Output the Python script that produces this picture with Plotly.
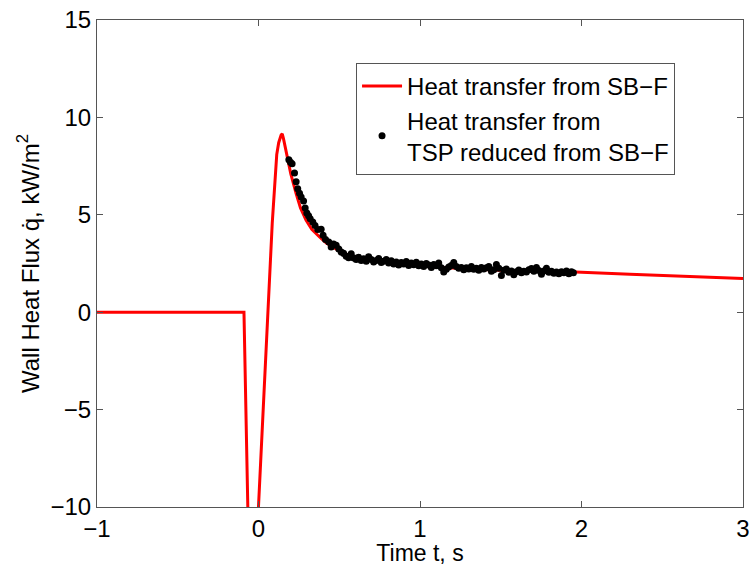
import plotly.graph_objects as go

# Red curve: heat transfer from SB-F
line_t = [-1.0, -0.09, -0.047, 0.048, 0.085, 0.113, 0.125, 0.14, 0.147, 0.155, 0.165, 0.18,
          0.2, 0.233, 0.26, 0.295, 0.33, 0.378, 0.42, 0.46, 0.51, 0.563, 0.65, 0.77, 0.9,
          1.08, 1.3, 1.49, 1.7, 1.963, 2.3, 2.6, 3.0]
line_q = [0, 0, -18, -1.95, 4.56, 8.1, 8.7, 9.1, 9.16, 8.9, 8.5, 7.88,
          7.1, 6.09, 5.35, 4.72, 4.25, 3.86, 3.55, 3.35, 3.1, 2.92, 2.75, 2.58, 2.45,
          2.32, 2.22, 2.15, 2.1, 2.07, 1.95, 1.85, 1.73]

# Black dots: TSP reduced from SB-F
dot_t = [0.188, 0.198, 0.208, 0.223, 0.233, 0.243, 0.254, 0.264, 0.279, 0.289, 0.299, 0.310,
         0.320, 0.336, 0.350, 0.367, 0.388, 0.400, 0.415, 0.435, 0.450, 0.465, 0.481, 0.497,
         0.512, 0.527, 0.543, 0.558, 0.574, 0.590, 0.605, 0.620, 0.636, 0.651, 0.667, 0.682,
         0.698, 0.713, 0.729, 0.744, 0.760, 0.775, 0.791, 0.806, 0.822, 0.837, 0.853, 0.868,
         0.884, 0.899, 0.915, 0.930, 0.946, 0.961, 0.977, 0.992, 1.008, 1.023, 1.039, 1.054,
         1.070, 1.085, 1.101, 1.116, 1.132, 1.147, 1.163, 1.178, 1.194, 1.209, 1.225, 1.240,
         1.256, 1.271, 1.287, 1.302, 1.318, 1.333, 1.349, 1.364, 1.380, 1.395, 1.411, 1.426,
         1.442, 1.457, 1.473, 1.488, 1.504, 1.519, 1.535, 1.550, 1.566, 1.581, 1.597, 1.612,
         1.628, 1.643, 1.659, 1.674, 1.690, 1.705, 1.721, 1.736, 1.752, 1.767, 1.783, 1.798,
         1.814, 1.829, 1.845, 1.860, 1.876, 1.891, 1.907, 1.922, 1.938, 1.950]
dot_q = [7.83, 7.70, 7.62, 7.14, 6.70, 6.34, 6.10, 5.91, 5.71, 5.35, 5.09, 4.95,
         4.80, 4.63, 4.45, 4.24, 4.26, 3.95, 3.73, 3.60, 3.35, 3.50, 3.44, 3.25,
         3.09, 3.02, 2.87, 2.80, 3.00, 2.78, 2.70, 2.82, 2.66, 2.74, 2.62, 2.85,
         2.70, 2.58, 2.66, 2.76, 2.55, 2.62, 2.70, 2.52, 2.64, 2.48, 2.58, 2.42,
         2.55, 2.47, 2.60, 2.40, 2.52, 2.44, 2.56, 2.38, 2.48, 2.35, 2.50, 2.42,
         2.30, 2.45, 2.38, 2.52, 2.28, 2.06, 2.20, 2.32, 2.40, 2.55, 2.35, 2.25,
         2.30, 2.18, 2.28, 2.22, 2.34, 2.20, 2.26, 2.15, 2.30, 2.22, 2.28, 2.35,
         2.10, 2.18, 2.45, 2.25, 1.88, 2.15, 2.22, 2.05, 2.12, 1.92, 2.08, 2.16,
         2.02, 2.10, 2.06, 2.18, 2.24, 2.10, 2.30, 2.14, 1.95, 2.12, 2.25, 2.05,
         2.10, 2.00, 2.06, 1.98, 2.08, 2.02, 2.12, 1.98, 2.08, 2.02]

x_ticks = [-1, 0, 1, 2, 3]
y_ticks = [-10, -5, 0, 5, 10, 15]

FONT = "Liberation Sans, Arial, sans-serif"

fig = go.Figure()
fig.add_trace(go.Scatter(
    x=line_t, y=line_q, mode="lines", name="Heat transfer from SB\u2212F",
    line=dict(color="#ff0000", width=3),
))
fig.add_trace(go.Scatter(
    x=dot_t, y=dot_q, mode="markers",
    name="Heat transfer from<br>TSP reduced from SB\u2212F",
    marker=dict(color="black", size=7),
))

axis_common = dict(
    showline=True, linecolor="#555", linewidth=1, mirror="ticks",
    ticks="inside", ticklen=6, tickcolor="#555",
    showgrid=False, zeroline=False, automargin=False,
    tickfont=dict(family=FONT, size=24, color="black"),
)

fig.update_layout(
    template="none",
    width=753, height=566,
    margin=dict(l=97, r=10, t=20, b=59, pad=0),
    paper_bgcolor="white", plot_bgcolor="white",
    font=dict(family=FONT, size=24, color="black"),
    xaxis=dict(range=[-1, 3], tickvals=x_ticks,
               title=dict(text="Time t, s", font=dict(size=23), standoff=4),
               **axis_common),
    yaxis=dict(range=[-10, 15], tickvals=y_ticks,
               title=dict(text="Wall Heat Flux q\u0307, kW/m<sup>2</sup>", font=dict(size=24), standoff=4),
               **axis_common),
    legend=dict(
        x=0.401, y=0.912, xanchor="left", yanchor="top",
        bgcolor="white", bordercolor="#555", borderwidth=1,
        font=dict(family=FONT, size=24, color="black"),
        itemwidth=40, tracegroupgap=0,
    ),
    showlegend=True,
)

fig.write_html("out.html")
